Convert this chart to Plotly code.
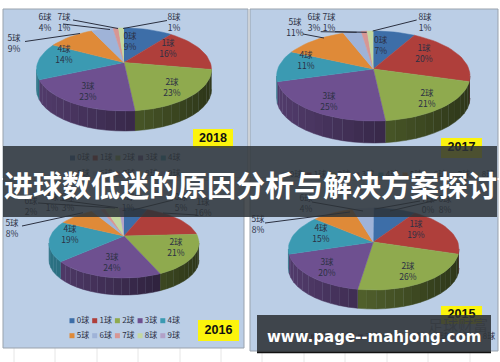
import math
import plotly.graph_objects as go

# ---------- data ----------
categories = ["0球", "1球", "2球", "3球", "4球", "5球", "6球", "7球", "8球", "9球"]
values_2018 = [9, 16, 23, 23, 14, 9, 4, 1, 1]
values_2017 = [7, 20, 21, 25, 11, 11, 3, 1, 1]
values_2016 = [5, 16, 21, 24, 19, 8, 2, 1, 3, 1]
values_2015 = [8, 19, 26, 20, 15, 8, 4, 0]
years = ["2018", "2017", "2016", "2015"]
title_text = "进球数低迷的原因分析与解决方案探讨"
site_text = "www.page--mahjong.com"
watermark_text = "足球财富"

# ---------- styles ----------
slice_colors = ["#3D6EA8", "#AF3F3B", "#8FAA4E", "#6E5090", "#3B9AB2",
                "#DF8A38", "#9FB3D8", "#D79694", "#C4D8A0", "#B2A1C7"]
PANEL = "#BBCEE6"
FONT = "Noto Sans CJK SC"
TXT = "#2c3044"

pies = {
    "2018": dict(vals=values_2018, cx=124, cy=69.5, rx=87.5, ry=41.5, ax=124, ay=62.5, d=20),
    "2017": dict(vals=values_2017, cx=373.3, cy=76, rx=96.7, ry=45, ax=373.3, ay=69, d=22),
    "2016": dict(vals=values_2016, cx=124, cy=243, rx=75, ry=35, ax=124, ay=236, d=17),
    "2015": dict(vals=values_2015, cx=373.7, cy=249, rx=85.3, ry=41, ax=373.3, ay=242, d=19),
}
label_anchor = {
    "2018": [(130, 42), (168, 49.5), (172, 88), (88, 92), (64, 55), (14, 44), (45, 23), (64, 23), (174, 23)],
    "2017": [(380.7, 46), (424, 54), (427, 99), (329, 102), (306, 61), (295, 28), (314, 23), (329, 23), (425, 23)],
    "2016": [(181, 203.5), (203, 208.5), (176, 248.5), (112, 263.5), (70, 235.5), (12, 229.5),
             (31, 207.5), (52, 203.5), (68, 203.5), (128, 203.5)],
    "2015": [(445, 205), (416, 230.5), (408, 272.5), (327, 268.5), (321, 234.5), (258, 225.5),
             (306, 204.5), (428, 205)],
}
leaders = {
    "2018": [((25, 41.5), (80, 33.5)), ((63, 24), (110, 29.5)), ((73, 20), (118, 28.5)), ((167, 20.5), (123, 28.5))],
    "2017": [((416.7, 20), (372.7, 31)), ((303, 34), (324, 38)), ((320.7, 31.7), (356.7, 32.3)), ((335, 31.7), (366.7, 32.3))],
    "2016": [((22, 226), (83, 212.7)), ((38, 203), (115, 208)), ((60, 200), (118, 207.7)),
             ((173, 200), (133, 210)), ((197, 215), (163, 213))],
    "2015": [((265, 223), (350, 212)), ((312, 202), (363, 211)), ((437, 200), (390, 211)), ((420, 201), (375, 209))],
}
legend_rows = {
    "2018": [(158, 72.5, 22.7, 0, 5), (174, 72.5, 22.7, 5, 10)],
    "2017": [(175, 285, 24, 0, 9)],
    "2016": [(320.7, 72, 22.7, 0, 5), (335.7, 72, 22.7, 5, 10)],
    "2015": [(337, 290, 23.5, 0, 9)],
}
year_boxes = {
    "2018": (193, 129, 233, 148),
    "2017": (441, 138, 482, 158),
    "2016": (198, 320, 239, 341),
    "2015": (441, 306, 482, 324),
}
panels = [(3, 9, 248, 178), (250, 9, 498, 178), (3, 180, 244, 348), (250, 180, 498, 351)]


def shade(hex_color, f):
    r, g, b = (int(hex_color[i:i + 2], 16) for i in (1, 3, 5))
    return f"rgb({int(r * f)},{int(g * f)},{int(b * f)})"


fig = go.Figure()


def poly(xs, ys, color):
    fig.add_trace(go.Scatter(x=xs, y=ys, mode="lines", fill="toself", fillcolor=color,
                             line=dict(color=color, width=0.5), hoverinfo="skip", showlegend=False))


for year in years:
    p = pies[year]
    total = sum(p["vals"])
    arc = lambda t: (p["cx"] + p["rx"] * math.sin(t), p["cy"] - p["ry"] * math.cos(t))
    # side wall, front half only, in small shaded steps
    start = 0.0
    spans = []
    for i, v in enumerate(p["vals"]):
        end = start + v / total * 2 * math.pi
        spans.append((start, end, slice_colors[i]))
        start = end
    for s, e, c in spans:
        a, b = max(s, math.pi / 2), min(e, 3 * math.pi / 2)
        if b <= a:
            continue
        n = max(1, int((b - a) / math.radians(6)))
        for k in range(n):
            t0 = a + (b - a) * k / n
            t1 = a + (b - a) * (k + 1) / n
            x0, y0 = arc(t0)
            x1, y1 = arc(t1)
            pos = ((x0 + x1) / 2 - (p["cx"] - p["rx"])) / (2 * p["rx"])
            poly([x0, x1, x1, x0], [y0, y1, y1 + p["d"], y0 + p["d"]],
                 shade(c, 0.75 - 0.43 * pos))
    # top surface
    for s, e, c in spans:
        if e <= s:
            continue
        n = max(2, int((e - s) / math.radians(3)))
        pts = [arc(s + (e - s) * k / n) for k in range(n + 1)]
        poly([p["ax"]] + [q[0] for q in pts], [p["ay"]] + [q[1] for q in pts], c)
    # leader lines
    for (a, b) in leaders[year]:
        fig.add_trace(go.Scatter(x=[a[0], b[0]], y=[a[1], b[1]], mode="lines",
                                 line=dict(color="#2b3040", width=1), hoverinfo="skip", showlegend=False))
    # data labels
    lx = [q[0] for q in label_anchor[year]]
    ly = [q[1] for q in label_anchor[year]]
    lt = [f"{categories[i]}<br>{v}%" for i, v in enumerate(p["vals"])]
    fig.add_trace(go.Scatter(x=lx, y=ly, mode="text", text=lt, textposition="middle center",
                             textfont=dict(family=FONT, size=8.5, color=TXT),
                             hoverinfo="skip", showlegend=False))
    # legend rows
    for (y, x0, step, i0, i1) in legend_rows[year]:
        idx = list(range(i0, i1))
        sx = [x0 + step * k for k in range(len(idx))]
        fig.add_trace(go.Scatter(x=sx, y=[y] * len(idx), mode="markers",
                                 marker=dict(symbol="square", size=5, color=[slice_colors[i] for i in idx]),
                                 hoverinfo="skip", showlegend=False))
        fig.add_trace(go.Scatter(x=[v + 11 for v in sx], y=[y] * len(idx), mode="text",
                                 text=[categories[i] for i in idx], textposition="middle center",
                                 textfont=dict(family=FONT, size=8, color=TXT),
                                 hoverinfo="skip", showlegend=False))
    # year tag text
    bx = year_boxes[year]
    fig.add_trace(go.Scatter(x=[(bx[0] + bx[2]) / 2], y=[(bx[1] + bx[3]) / 2], mode="text",
                             text=[f"<b>{year}</b>"],
                             textfont=dict(family="Liberation Sans", size=12.5, color="#111111"),
                             hoverinfo="skip", showlegend=False))

fig.add_trace(go.Scatter(x=[458], y=[327], mode="text", text=[watermark_text],
                         textfont=dict(family=FONT, size=15, color="#7d8794"),
                         hoverinfo="skip", showlegend=False))

shapes = []
for x in (14, 55, 97, 138, 180, 221, 262, 304, 345, 387, 428, 470):
    shapes.append(dict(type="line", x0=x, x1=x, y0=348, y1=362, layer="below",
                       line=dict(color="#e6e6e6", width=1)))
for (x0, y0, x1, y1) in panels:
    shapes.append(dict(type="rect", x0=x0, y0=y0, x1=x1, y1=y1, layer="below",
                       fillcolor=PANEL, line=dict(color="#9aa3ad", width=1)))
for year in years:
    b = year_boxes[year]
    shapes.append(dict(type="rect", x0=b[0], y0=b[1], x1=b[2], y1=b[3], layer="below",
                       fillcolor="#FCF40C", line=dict(width=0)))
shapes.append(dict(type="rect", x0=3, y0=146, x1=497, y1=217, layer="above",
                   fillcolor="rgba(45,50,55,0.85)", line=dict(width=0)))
shapes.append(dict(type="rect", x0=257, y0=315, x1=491, y1=352, layer="above",
                   fillcolor="rgba(45,50,55,0.88)", line=dict(width=0)))
shapes.append(dict(type="line", x0=257, y0=352.5, x1=491, y1=352.5, layer="above",
                   line=dict(color="#111111", width=1.5)))

annotations = [
    dict(x=250, y=184, xref="x", yref="y", text=f"<b>{title_text}</b>", showarrow=False,
         font=dict(family=FONT, size=29, color="#ffffff")),
    dict(x=374, y=336.5, xref="x", yref="y", text=f"<b>{site_text}</b>", showarrow=False,
         font=dict(family="DejaVu Sans", size=15, color="#ffffff")),
]

fig.update_layout(
    width=500, height=362, margin=dict(l=0, r=0, t=0, b=0),
    paper_bgcolor="#ffffff", plot_bgcolor="#ffffff", showlegend=False,
    xaxis=dict(range=[0, 500], visible=False, fixedrange=True),
    yaxis=dict(range=[362, 0], visible=False, fixedrange=True),
    shapes=shapes, annotations=annotations,
)
fig.write_html("out.html", config={"displayModeBar": False},
               post_script="document.body.style.margin='0';document.documentElement.style.overflow='hidden';")
